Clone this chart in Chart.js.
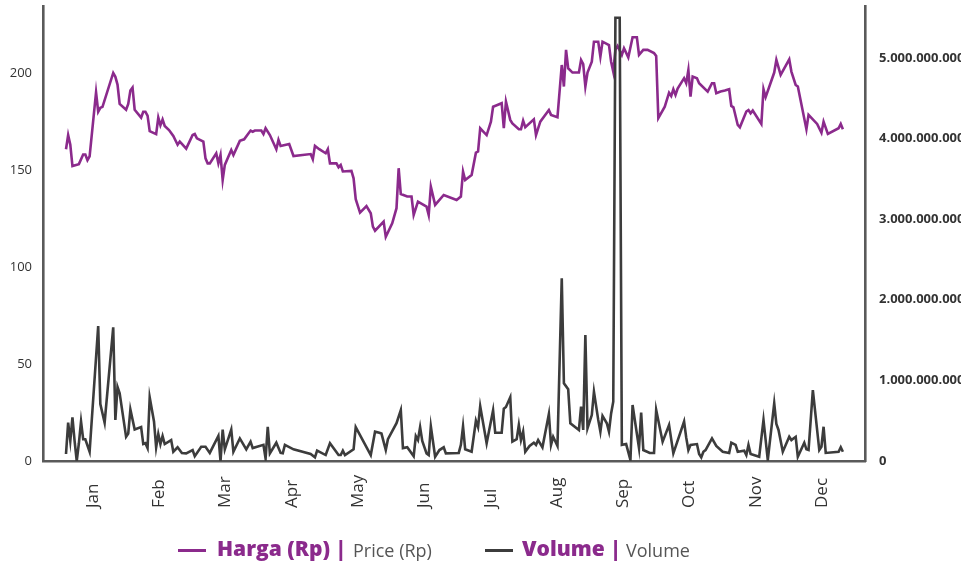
<!DOCTYPE html>
<html>
<head>
<meta charset="utf-8">
<script src="https://cdn.jsdelivr.net/npm/chart.js@4.4.1/dist/chart.umd.min.js"></script>
<style>
  html, body { margin: 0; padding: 0; background: #ffffff; }
  #wrap { position: relative; width: 961px; height: 567px; overflow: hidden; background: #fff; }
  #c { position: absolute; left: 0; top: 0; }
  .lg-line { position: absolute; height: 3px; }
  .lg-txt { position: absolute; white-space: nowrap; line-height: 1; font-family: 'Open Sans', sans-serif; }
  .lg-bold { font-weight: 800; font-size: 21px; color: #8b2a8c; }
  .lg-reg { font-weight: 400; font-size: 18px; color: #555555; }
</style>
</head>
<body>
<div id="wrap">
  <canvas id="c" width="961" height="567"></canvas>
  <div class="lg-line" style="left:178px; top:549px; width:28px; background:#8b2a8c;"></div>
  <span class="lg-txt lg-bold" style="left:217px; top:538px;">Harga (Rp) |</span>
  <span class="lg-txt lg-reg" style="left:353px; top:541px;">Price (Rp)</span>
  <div class="lg-line" style="left:485px; top:549px; width:28px; background:#3c3c3c;"></div>
  <span class="lg-txt lg-bold" style="left:522px; top:538px;">Volume |</span>
  <span class="lg-txt lg-reg" style="left:626px; top:541px;">Volume</span>
</div>
<script>
// ---- Data ----
const monthLabels = ['Jan','Feb','Mar','Apr','May','Jun','Jul','Aug','Sep','Oct','Nov','Dec'];
const priceTicks = [0, 50, 100, 150, 200];
const volumeTicks = [0, 1e9, 2e9, 3e9, 4e9, 5e9];

// day of year for each price observation
const priceDays = [2,3,4,5,8,10,11,12,13,16,17,18,19,24,25,26,27,30,31,32,33,34,37,38,39,40,41,44,45,46,47,48,50,52,54,55,56,58,61,62,63,66,67,68,69,72,73,74,75,76,79,80,83,85,88,89,90,93,94,95,97,100,101,102,106,108,116,117,118,120,123,124,125,128,129,130,131,135,136,137,139,142,144,145,146,150,151,154,156,157,158,161,163,164,166,170,171,172,174,178,184,186,187,188,191,193,194,195,196,198,200,201,203,205,206,207,209,210,213,214,215,216,220,221,223,227,228,231,233,234,235,236,238,241,242,243,244,245,247,248,250,251,252,255,256,257,258,259,261,262,264,266,268,269,271,273,276,277,278,281,283,284,285,286,287,290,291,292,293,294,296,297,301,303,304,305,307,309,311,312,313,315,316,319,320,321,322,326,327,328,332,333,335,339,340,342,343,347,348,352,354,355,357,362,363,364];
// Harga (Rp)
const priceValues = [160.7,168,163,152,153,158,158,155,157,190,180,182,182.5,200,198,194,184,181,184,191,192.5,181,177,180,180,178,170,168.5,177,173,176,172.7,170.6,167.5,163,164.6,163.4,161,168,168.5,166.3,164.6,156,153.4,153.4,158.6,153.4,157.7,144.8,152.6,160.3,157.7,165,165.8,170.3,169.7,170.3,170.3,168.5,171.5,168,160.7,165.5,162.4,163.4,157.2,158.2,155.5,162.4,160.7,158.6,160.7,153.4,153.4,151.4,152.6,149.2,149.5,145.7,134.9,128,131.4,127.7,120.8,118.7,123.4,115.6,122.5,130.3,150.9,137.6,136.3,136.3,126.8,133.7,131.1,126.8,141.4,132,137.1,134.5,136.3,149.2,144.8,147.4,158.9,159.5,171.5,170.3,168,174.9,182.6,183.5,184.4,171.5,185.2,175.8,174,171,171,175.4,172,176.1,168,174.9,180.9,178.4,177.2,204.1,193,211.9,202.4,200.2,200.2,206.7,204.6,193,200.2,205.8,216.1,216.1,208.4,216.1,214.4,205.8,200.7,211.9,213.9,209.3,212.7,208,218.4,218.4,209.3,211.9,211.9,210.2,208.8,176.7,182.6,189.8,188.1,191.6,188.7,192,197.3,194.7,201.5,187.8,198.1,197.3,194.7,190.4,194.7,194.7,189.5,190.4,190.9,191.6,183,182.3,173.2,172,180.1,180.9,179.2,180.6,173.7,191.6,187.5,200.2,206.7,199,207,200.7,193.8,193,171,178.4,173.7,169.2,174.9,168.6,171.5,173.7,171];

// day of year for each volume observation
const volumeDays = [2,3,4,5,6,7,8,9,10,11,13,17,18,20,24,25,26,27,30,31,32,34,37,38,39,40,41,43,44,45,46,47,48,51,52,54,56,58,61,62,65,67,69,73,74,75,76,79,80,83,86,88,89,94,95,96,97,100,102,103,104,108,116,118,119,123,125,129,130,131,132,136,137,144,146,148,149,151,152,156,158,159,161,164,165,166,167,168,170,171,172,174,176,178,179,185,186,187,188,191,193,194,195,198,201,202,205,206,207,209,210,212,213,214,215,216,218,220,221,222,224,227,228,229,231,233,234,236,237,241,242,243,244,245,247,248,250,251,252,254,255,256,257,258,260,261,263,265,266,269,270,271,274,276,277,280,283,285,290,291,292,293,296,297,298,299,300,303,305,308,311,312,314,315,318,319,320,321,325,327,329,332,333,334,336,339,340,342,343,346,347,348,350,353,354,355,356,362,363,364];
// Volume (shares)
const volumeValues = [0.087e9,0.475e9,0.25e9,0.54e9,0.25e9,0,0.22e9,0.49e9,0.27e9,0.27e9,0.115e9,1.675e9,0.707e9,0.475e9,1.658e9,0.51e9,0.92e9,0.84e9,0.30e9,0.34e9,0.64e9,0.39e9,0.42e9,0.21e9,0.22e9,0.16e9,0.79e9,0.49e9,0.17e9,0.335e9,0.21e9,0.31e9,0.21e9,0.26e9,0.115e9,0.17e9,0.10e9,0.095e9,0.136e9,0.06e9,0.177e9,0.177e9,0.10e9,0.31e9,0,0.39e9,0.145e9,0.39e9,0.115e9,0.28e9,0.145e9,0.24e9,0.16e9,0.2e9,0.03e9,0.425e9,0.095e9,0.227e9,0.10e9,0.095e9,0.2e9,0.145e9,0.087e9,0.046e9,0.128e9,0.074e9,0.22e9,0.074e9,0.074e9,0.128e9,0.074e9,0.145e9,0.42e9,0.074e9,0.364e9,0.35e9,0.34e9,0.136e9,0.27e9,0.47e9,0.63e9,0.16e9,0.17e9,0.06e9,0.31e9,0.26e9,0.42e9,0.25e9,0.095e9,0.074e9,0.43e9,0.053e9,0.136e9,0.17e9,0.095e9,0.10e9,0.2e9,0.43e9,0.145e9,0.115e9,0.50e9,0.42e9,0.68e9,0.22e9,0.63e9,0.35e9,0.35e9,0.65e9,0.67e9,0.79e9,0.24e9,0.27e9,0.447e9,0.26e9,0.364e9,0.115e9,0.186e9,0.227e9,0.2e9,0.26e9,0.17e9,0.583e9,0.2e9,0.30e9,0.186e9,2.267e9,0.964e9,0.89e9,0.468e9,0.385e9,0.674e9,0.385e9,1.563e9,0.406e9,0.57e9,0.86e9,0.51e9,0.364e9,0.56e9,0.468e9,0.364e9,0.59e9,0.736e9,5.5e9,5.5e9,0.2e9,0.21e9,0.012e9,0.695e9,0.16e9,0.6e9,0.136e9,0.10e9,0.10e9,0.633e9,0.24e9,0.447e9,0.095e9,0.49e9,0.29e9,0.136e9,0.2e9,0.21e9,0.087e9,0.046e9,0.115e9,0.136e9,0.28e9,0.186e9,0.115e9,0.10e9,0.227e9,0.2e9,0.115e9,0.128e9,0.074e9,0.2e9,0.087e9,0.053e9,0.51e9,0.012e9,0.716e9,0.46e9,0.385e9,0.115e9,0.30e9,0.26e9,0.30e9,0.053e9,0.227e9,0.145e9,0.136e9,0.88e9,0.136e9,0.177e9,0.425e9,0.10e9,0.115e9,0.17e9,0.115e9];

// ---- Styling / layout constants ----
const PURPLE = '#8b2a8c';
const DARK = '#3c3c3c';
const AXIS = '#5a5a5a';
const FONT = "'Open Sans', sans-serif";

function dotted(v) {
  return String(Math.round(v)).replace(/\B(?=(\d{3})+(?!\d))/g, '.');
}

function noPad(scale) {
  scale.paddingTop = 0;
  scale.paddingBottom = 0;
  scale.paddingLeft = 0;
  scale.paddingRight = 0;
}

const xLabelPlugin = {
  id: 'xLabels',
  afterDraw(chart) {
    const xs = chart.scales.x;
    const ctx = chart.ctx;
    ctx.save();
    ctx.font = "17px 'Open Sans', sans-serif";
    ctx.fillStyle = '#333333';
    ctx.textAlign = 'left';
    ctx.textBaseline = 'middle';
    xs.ticks.forEach((t, i) => {
      const px = xs.getPixelForValue(t.value);
      ctx.save();
      ctx.translate(px, chart.chartArea.bottom + 47);
      ctx.rotate(-Math.PI / 2);
      ctx.fillText(monthLabels[i], 0, 0);
      ctx.restore();
    });
    ctx.restore();
  }
};

const ctx = document.getElementById('c').getContext('2d');
new Chart(ctx, {
  type: 'line',
  data: {
    datasets: [
      {
        label: 'Volume',
        data: volumeDays.map((d, i) => ({ x: d, y: volumeValues[i] })),
        yAxisID: 'y1',
        borderColor: DARK,
        borderWidth: 2.6,
        pointRadius: 0,
        tension: 0,
        fill: false,
        order: 0
      },
      {
        label: 'Harga (Rp)',
        data: priceDays.map((d, i) => ({ x: d, y: priceValues[i] })),
        yAxisID: 'y',
        borderColor: PURPLE,
        borderWidth: 2.6,
        pointRadius: 0,
        tension: 0,
        fill: false,
        order: 1
      }
    ]
  },
  options: {
    responsive: false,
    animation: false,
    devicePixelRatio: 1,
    layout: { padding: { top: 6, left: 0, right: 0, bottom: 0 } },
    plugins: { legend: { display: false }, tooltip: { enabled: false } },
    scales: {
      x: {
        type: 'linear',
        min: -8.72,
        max: 374.3,
        grid: { display: false, drawTicks: false },
        border: { display: true, color: AXIS, width: 2.6 },
        ticks: { display: false },
        afterBuildTicks: (scale) => {
          scale.ticks = monthLabels.map((m, i) => ({ value: 14.6 + i * 30.88 }));
        },
        afterFit: (scale) => { scale.height = 106; noPad(scale); }
      },
      y: {
        position: 'left',
        min: 0,
        max: 234.5,
        grid: { display: false, drawTicks: false },
        border: { display: true, color: AXIS, width: 2.6 },
        ticks: {
          padding: 11,
          color: '#333333',
          font: { family: FONT, size: 13 }
        },
        afterBuildTicks: (scale) => {
          scale.ticks = priceTicks.map(v => ({ value: v }));
        },
        afterFit: (scale) => { scale.width = 43; noPad(scale); }
      },
      y1: {
        position: 'right',
        min: 0,
        max: 5.645e9,
        grid: { display: false, drawTicks: false },
        border: { display: true, color: AXIS, width: 2.6 },
        ticks: {
          padding: 14,
          color: '#333333',
          font: { family: FONT, size: 13, weight: 'bold' },
          callback: (v) => dotted(v)
        },
        afterBuildTicks: (scale) => {
          scale.ticks = volumeTicks.map(v => ({ value: v }));
        },
        afterFit: (scale) => { scale.width = 96; noPad(scale); }
      }
    }
  },
  plugins: [xLabelPlugin]
});
</script>
</body>
</html>
